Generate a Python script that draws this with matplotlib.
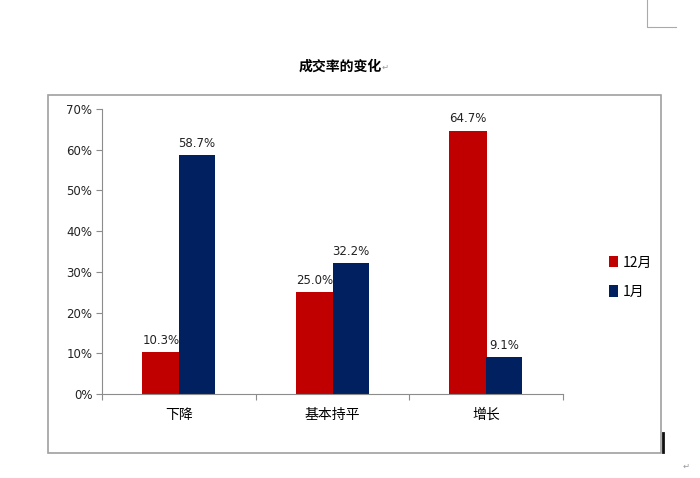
import numpy as np
import matplotlib.pyplot as plt
from matplotlib.patches import Rectangle
from matplotlib.lines import Line2D

plt.rcParams['font.family'] = ['Noto Sans CJK SC', 'DejaVu Sans']

# data
categories = ['下降', '基本持平', '增长']
dec_vals = [10.3, 25.0, 64.7]   # 12月
jan_vals = [58.7, 32.2, 9.1]    # 1月
series_names = ['12月', '1月']
yticks = [0, 10, 20, 30, 40, 50, 60, 70]

red = '#C00000'
navy = '#002060'
grey = '#8C8C8C'

fig = plt.figure(figsize=(7, 4.78), dpi=100)
ax = fig.add_axes([102/700, 1-394/478, 461/700, 285/478])

x = np.arange(len(categories))
w = 0.235
b1 = ax.bar(x - w/2, dec_vals, w + 0.01, color=red, linewidth=0, label=series_names[0])
b2 = ax.bar(x + w/2, jan_vals, w, color=navy, linewidth=0, label=series_names[1])

for bars, vals in ((b1, dec_vals), (b2, jan_vals)):
    for r, v in zip(bars, vals):
        ax.text(r.get_x() + r.get_width()/2, v + 1.3, '%.1f%%' % v,
                ha='center', va='bottom', fontsize=8.5, color='#222222',
                family='DejaVu Sans')

ax.set_xlim(-0.5, 2.5)
ax.set_ylim(0, 70)
ax.set_yticks(yticks)
ax.set_yticklabels(['%d%%' % t for t in yticks], fontsize=8.5, family='DejaVu Sans',
                   color='#222222')
ax.set_xticks([-0.5, 0.5, 1.5, 2.5])
ax.set_xticklabels([])
ax.set_xticks(x, minor=True)
ax.set_xticklabels(categories, minor=True, fontsize=10)
ax.tick_params(axis='x', which='minor', length=0, pad=10)
ax.tick_params(axis='x', which='major', length=4, color=grey, direction='out')
ax.tick_params(axis='y', length=4, color=grey, direction='out', pad=3)
for s in ['top', 'right']:
    ax.spines[s].set_visible(False)
for s in ['left', 'bottom']:
    ax.spines[s].set_color(grey)

leg = fig.legend(handles=[b1, b2], labels=series_names, loc='upper left',
                 bbox_to_anchor=(596/700, 1-243/478), frameon=False,
                 fontsize=10, handlelength=0.7, handleheight=0.9,
                 handletextpad=0.3, labelspacing=1.1)

# outer chart frame
fig.patches.append(Rectangle((48/700, 1-453/478), 613/700, 358/478,
                             transform=fig.transFigure, fill=False,
                             edgecolor='#A0A0A0', linewidth=1.2))

fig.text(340/700, 1-67/478, '成交率的变化', ha='center', va='center',
         fontsize=10, fontweight='bold')
fig.text(382/700, 1-67/478, '↵', ha='left', va='center', fontsize=6, color='#999999')
fig.text(683/700, 1-466/478, '↵', ha='left', va='center', fontsize=6, color='#999999')

# page corner mark and cursor
fig.lines.append(Line2D([647/700, 647/700, 676/700], [1.0, 1-27/478, 1-27/478],
                        transform=fig.transFigure, color='#AAAAAA', linewidth=0.8))
fig.lines.append(Line2D([663/700, 663/700], [1-433/478, 1-452/478],
                        transform=fig.transFigure, color='#111111', linewidth=2))

fig.savefig('out.png', dpi=100)
